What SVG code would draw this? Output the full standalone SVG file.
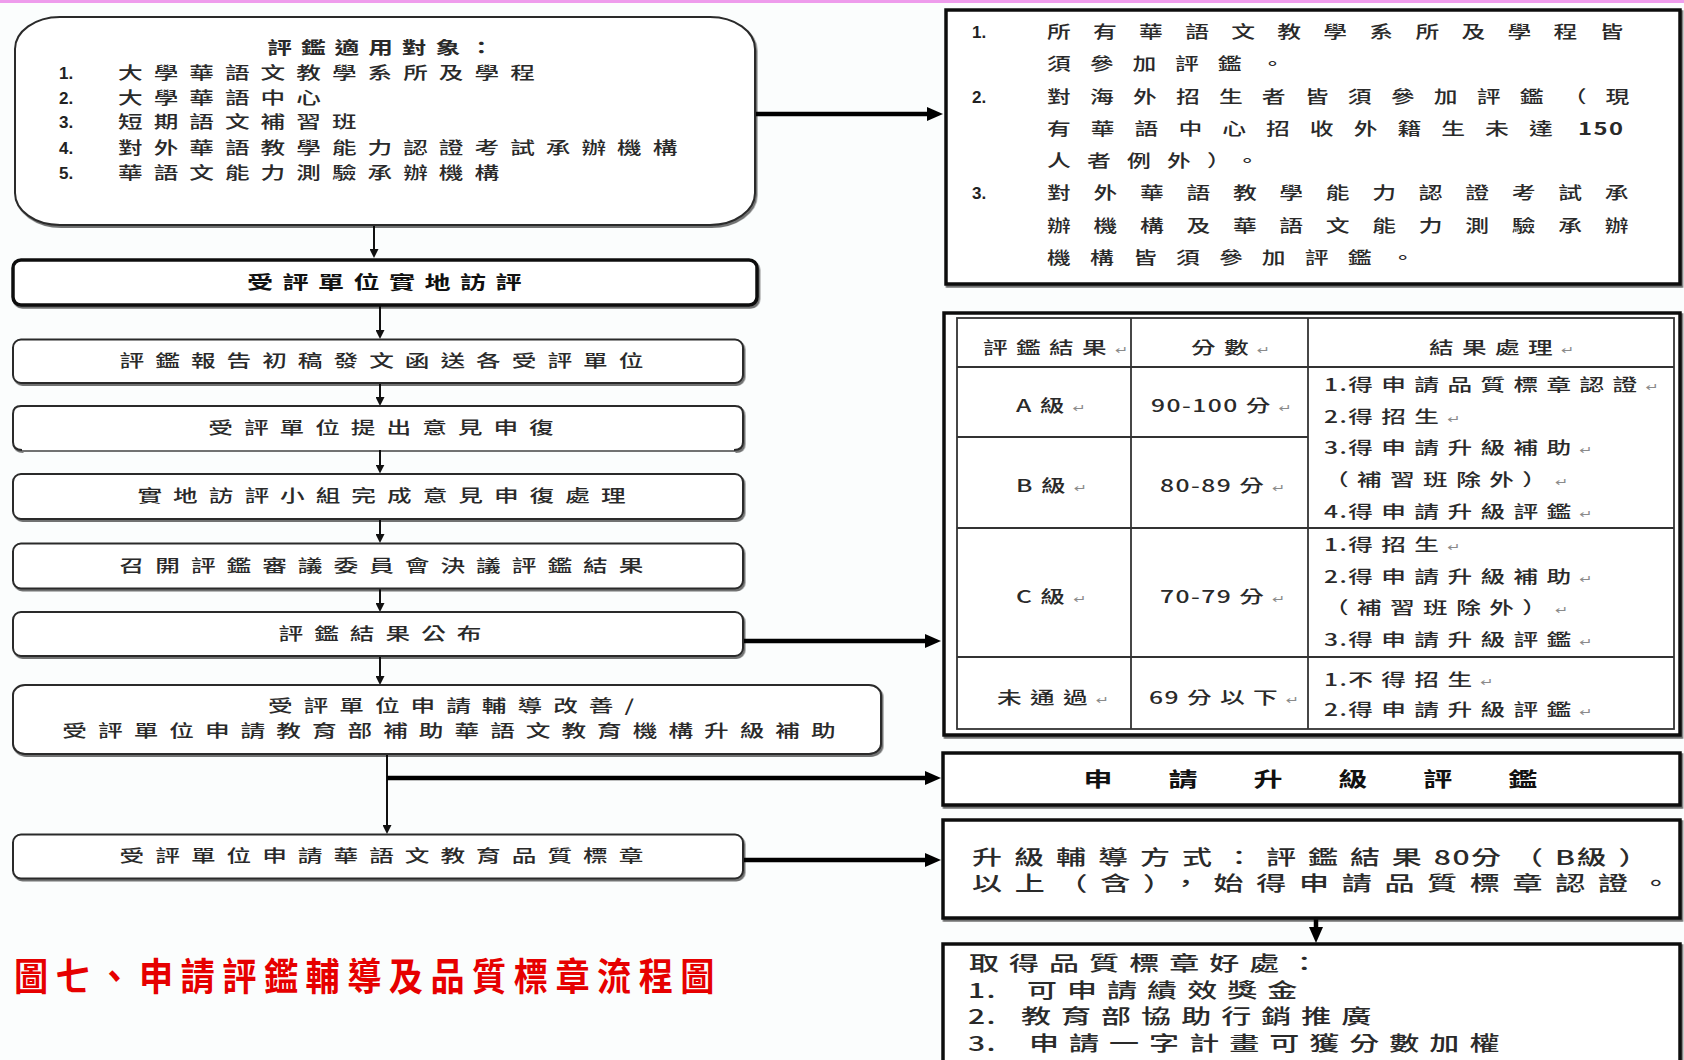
<svg xmlns="http://www.w3.org/2000/svg" width="1684" height="1060" viewBox="0 0 1684 1060">
<defs>
<style>
.t{font-family:"Noto Sans CJK TC","Noto Sans CJK SC",sans-serif;fill:#2a2a2a;font-weight:500}
.c{text-anchor:middle}
.fl{font-size:17px;letter-spacing:7.6px}
.fb{font-size:18px;font-weight:700;letter-spacing:6.5px;fill:#111}
.ft{font-size:17px;font-weight:700;letter-spacing:6.2px}
.num{font-size:17px;font-weight:700;font-family:"Liberation Sans",sans-serif;fill:#222}
.fr{font-size:17px}
.ftb{font-size:17px;letter-spacing:5.8px}
.d{letter-spacing:1px}
.pm{font-family:"DejaVu Sans",sans-serif;font-size:11px;fill:#8a8a8a;letter-spacing:0}
.fh{font-size:20px;font-weight:700;letter-spacing:38.6px;fill:#111}
.fu{font-size:20px;letter-spacing:8px}
.fw{font-size:20px;letter-spacing:6.7px}
.cap{font-family:"Noto Sans CJK TC","Noto Sans CJK SC",sans-serif;font-size:38px;font-weight:700;letter-spacing:8.3px;fill:#e60000}
.box{fill:#fff;stroke:#2a2a2a;stroke-width:2}
.bx2{fill:#fff;stroke:#111;stroke-width:3.5}
.rb{fill:#fff;stroke:#111;stroke-width:3.5}
.tl{stroke:#333;stroke-width:1.8;fill:none}
.ln{stroke:#111;stroke-width:2;fill:none}
.lk{stroke:#000;stroke-width:4.5;fill:none}
</style>
<filter id="sh" x="-3%" y="-10%" width="106%" height="125%">
<feDropShadow dx="1.5" dy="2" stdDeviation="0.6" flood-color="#000" flood-opacity="0.55"/>
</filter>
<marker id="as" viewBox="0 0 10 10" markerWidth="9" markerHeight="9" refX="2" refY="5" orient="auto" markerUnits="userSpaceOnUse">
<path d="M0,0 L10,5 L0,10 z" fill="#111"/>
</marker>
<marker id="ab" viewBox="0 0 16 14" markerWidth="16" markerHeight="14" refX="4" refY="7" orient="auto" markerUnits="userSpaceOnUse">
<path d="M0,0 L16,7 L0,14 z" fill="#000"/>
</marker>
</defs>

<rect x="0" y="0" width="1684" height="1060" fill="#fbfdfd"/>
<rect x="0" y="0" width="1684" height="3" fill="#ee9cec"/>

<g id="connectors">
<path class="ln" d="M374,225 V250.8" marker-end="url(#as)"/>
<path class="ln" d="M380,305 V331.8" marker-end="url(#as)"/>
<path class="ln" d="M380,383 V398.8" marker-end="url(#as)"/>
<path class="ln" d="M380,450 V466.4" marker-end="url(#as)"/>
<path class="ln" d="M380,519 V535.8" marker-end="url(#as)"/>
<path class="ln" d="M380,589 V604.8" marker-end="url(#as)"/>
<path class="ln" d="M380,656 V677.8" marker-end="url(#as)"/>
<path class="ln" d="M387,754 V826.8" stroke-width="2.5" marker-end="url(#as)"/>
<path class="lk" d="M387,778 H929" stroke-width="4" marker-end="url(#ab)"/>
<path class="lk" d="M743,641 H929" stroke-width="5" marker-end="url(#ab)"/>
<path class="lk" d="M743,860 H929" stroke-width="5" marker-end="url(#ab)"/>
<path class="lk" d="M755,114 H931" stroke-width="3.5" marker-end="url(#ab)"/>
<path class="lk" d="M1316,919 V931" stroke-width="5" marker-end="url(#ab)"/>
</g>

<g id="n-scope">
<rect class="box" x="15" y="17" width="740" height="208" rx="45" ry="32" filter="url(#sh)"/>
<text class="t ft c" transform="translate(385 54) scale(1.45 1)">評鑑適用對象：</text>
<text class="num" x="59" y="79">1.</text>
<text class="num" x="59" y="104">2.</text>
<text class="num" x="59" y="128">3.</text>
<text class="num" x="59" y="154">4.</text>
<text class="num" x="59" y="179">5.</text>
<text class="t fl" transform="translate(118 79) scale(1.45 1)">大學華語文教學系所及學程</text>
<text class="t fl" transform="translate(118 104) scale(1.45 1)">大學華語中心</text>
<text class="t fl" transform="translate(118 128) scale(1.45 1)">短期語文補習班</text>
<text class="t fl" transform="translate(118 154) scale(1.45 1)">對外華語教學能力認證考試承辦機構</text>
<text class="t fl" transform="translate(118 179) scale(1.45 1)">華語文能力測驗承辦機構</text>
</g>

<g id="n-visit">
<rect class="bx2" x="13" y="260" width="744" height="45" rx="8" filter="url(#sh)"/>
<text class="t fb c" transform="translate(389 289) scale(1.45 1)">受評單位實地訪評</text>
</g>

<g id="n-draft">
<rect class="box" x="13" y="339.5" width="730" height="43.5" rx="8" filter="url(#sh)"/>
<text class="t fl c" transform="translate(387 367) scale(1.45 1)">評鑑報告初稿發文函送各受評單位</text>
</g>

<g id="n-appeal">
<path d="M13,414 Q13,406 21,406 L735,406 Q743,406 743,414 L743,450 L13,450 Z" fill="#fff" stroke="none"/>
<path class="box" fill="none" d="M22,450 Q13,450 13,442 L13,414 Q13,406 21,406 L735,406 Q743,406 743,414 L743,442 Q743,450 734,450" filter="url(#sh)"/>
<text class="t fl c" transform="translate(386.5 434) scale(1.45 1)">受評單位提出意見申復</text>
</g>

<g id="n-process">
<rect class="box" x="13" y="474" width="730" height="45" rx="8" filter="url(#sh)"/>
<text class="t fl c" transform="translate(387 502) scale(1.45 1)">實地訪評小組完成意見申復處理</text>
</g>

<g id="n-committee">
<rect class="box" x="13" y="543.5" width="730" height="45" rx="8" filter="url(#sh)"/>
<text class="t fl c" transform="translate(387 572) scale(1.45 1)">召開評鑑審議委員會決議評鑑結果</text>
</g>

<g id="n-publish">
<rect class="box" x="13" y="612" width="730" height="44" rx="8" filter="url(#sh)"/>
<text class="t fl c" transform="translate(385.5 640) scale(1.45 1)">評鑑結果公布</text>
</g>

<g id="n-apply">
<rect class="box" x="13" y="685" width="868" height="69" rx="12" ry="10" filter="url(#sh)"/>
<text class="t fl c" transform="translate(456.5 712) scale(1.45 1)">受評單位申請輔導改善/</text>
<text class="t fl c" transform="translate(454.5 737) scale(1.45 1)">受評單位申請教育部補助華語文教育機構升級補助</text>
</g>

<g id="n-label">
<rect class="box" x="13" y="834.5" width="730" height="44" rx="8" filter="url(#sh)"/>
<text class="t fl c" transform="translate(387 862) scale(1.45 1)">受評單位申請華語文教育品質標章</text>
</g>

<g id="n-rules">
<rect class="rb" x="946" y="10" width="734" height="274" filter="url(#sh)"/>
<text class="num" x="972" y="38">1.</text>
<text class="num" x="972" y="103">2.</text>
<text class="num" x="972" y="199">3.</text>
<text class="t fr" style="letter-spacing:15.9px" transform="translate(1047 38) scale(1.4 1)">所有華語文教學系所及學程皆</text>
<text class="t fr" style="letter-spacing:13.5px" transform="translate(1047 70) scale(1.4 1)">須參加評鑑。</text>
<text class="t fr" style="letter-spacing:13.7px" transform="translate(1047 103) scale(1.4 1)">對海外招生者皆須參加評鑑（現</text>
<text class="t fr" style="letter-spacing:14.3px" transform="translate(1047 135) scale(1.4 1)">有華語中心招收外籍生未達<tspan letter-spacing="0"> </tspan><tspan font-weight="700" letter-spacing="1">150</tspan></text>
<text class="t fr" style="letter-spacing:11.6px" transform="translate(1047 167) scale(1.4 1)">人者例外）。</text>
<text class="t fr" style="letter-spacing:16.2px" transform="translate(1047 199) scale(1.4 1)">對外華語教學能力認證考試承</text>
<text class="t fr" style="letter-spacing:16.2px" transform="translate(1047 232) scale(1.4 1)">辦機構及華語文能力測驗承辦</text>
<text class="t fr" style="letter-spacing:13.7px" transform="translate(1047 264) scale(1.4 1)">機構皆須參加評鑑。</text>
</g>

<g id="n-table">
<rect class="rb" x="944" y="313" width="736" height="422" filter="url(#sh)"/>
<rect class="tl" x="957" y="318" width="717" height="411"/>
<path class="tl" d="M1131,318 V729 M1308,318 V729 M957,367 H1674 M957,437 H1308 M957,528 H1674 M957,657 H1674"/>
<text class="t ftb" transform="translate(983 354) scale(1.45 1)">評鑑結果<tspan class="pm">↵</tspan></text>
<text class="t ftb" transform="translate(1191 354) scale(1.45 1)">分數<tspan class="pm">↵</tspan></text>
<text class="t ftb" transform="translate(1429 354) scale(1.45 1)">結果處理<tspan class="pm">↵</tspan></text>
<text class="t ftb" transform="translate(1016 412) scale(1.45 1)"><tspan class="d">A </tspan>級<tspan class="pm">↵</tspan></text>
<text class="t ftb" transform="translate(1151 412) scale(1.45 1)"><tspan class="d">90-100 </tspan>分<tspan class="pm">↵</tspan></text>
<text class="t ftb" transform="translate(1016 492) scale(1.45 1)"><tspan class="d">B </tspan>級<tspan class="pm">↵</tspan></text>
<text class="t ftb" transform="translate(1160 492) scale(1.45 1)"><tspan class="d">80-89 </tspan>分<tspan class="pm">↵</tspan></text>
<text class="t ftb" transform="translate(1016 603) scale(1.45 1)"><tspan class="d">C </tspan>級<tspan class="pm">↵</tspan></text>
<text class="t ftb" transform="translate(1160 603) scale(1.45 1)"><tspan class="d">70-79 </tspan>分<tspan class="pm">↵</tspan></text>
<text class="t ftb" transform="translate(997 704) scale(1.45 1)">未通過<tspan class="pm">↵</tspan></text>
<text class="t ftb" transform="translate(1149 704) scale(1.45 1)"><tspan class="d">69 </tspan>分以下<tspan class="pm">↵</tspan></text>
<text class="t ftb" transform="translate(1324 391) scale(1.45 1)"><tspan class="d">1.</tspan>得申請品質標章認證<tspan class="pm">↵</tspan></text>
<text class="t ftb" transform="translate(1324 423) scale(1.45 1)"><tspan class="d">2.</tspan>得招生<tspan class="pm">↵</tspan></text>
<text class="t ftb" transform="translate(1324 454) scale(1.45 1)"><tspan class="d">3.</tspan>得申請升級補助<tspan class="pm">↵</tspan></text>
<text class="t ftb" transform="translate(1324 486) scale(1.45 1)">（補習班除外）<tspan class="pm">↵</tspan></text>
<text class="t ftb" transform="translate(1324 518) scale(1.45 1)"><tspan class="d">4.</tspan>得申請升級評鑑<tspan class="pm">↵</tspan></text>
<text class="t ftb" transform="translate(1324 551) scale(1.45 1)"><tspan class="d">1.</tspan>得招生<tspan class="pm">↵</tspan></text>
<text class="t ftb" transform="translate(1324 583) scale(1.45 1)"><tspan class="d">2.</tspan>得申請升級補助<tspan class="pm">↵</tspan></text>
<text class="t ftb" transform="translate(1324 614) scale(1.45 1)">（補習班除外）<tspan class="pm">↵</tspan></text>
<text class="t ftb" transform="translate(1324 646) scale(1.45 1)"><tspan class="d">3.</tspan>得申請升級評鑑<tspan class="pm">↵</tspan></text>
<text class="t ftb" transform="translate(1324 686) scale(1.45 1)"><tspan class="d">1.</tspan>不得招生<tspan class="pm">↵</tspan></text>
<text class="t ftb" transform="translate(1324 716) scale(1.45 1)"><tspan class="d">2.</tspan>得申請升級評鑑<tspan class="pm">↵</tspan></text>
</g>

<g id="n-upgrade">
<rect class="rb" x="943" y="753" width="737" height="52" stroke-width="4.5" filter="url(#sh)"/>
<text class="t fh" transform="translate(1083.5 787) scale(1.45 1)">申請升級評鑑</text>
</g>

<g id="n-method">
<rect class="rb" x="943" y="820" width="737" height="98" stroke-width="4.5" filter="url(#sh)"/>
<text class="t fu" transform="translate(972 865) scale(1.5 1)">升級輔導方式：評鑑結果<tspan class="d">80</tspan>分（<tspan class="d">B</tspan>級）</text>
<text class="t fu" style="letter-spacing:8.5px" transform="translate(972 891) scale(1.5 1)">以上（含），始得申請品質標章認證。</text>
</g>

<g id="n-benefit">
<rect class="rb" x="943" y="944" width="737" height="130" stroke-width="4.5" filter="url(#sh)"/>
<text class="t fw" transform="translate(969 971) scale(1.5 1)">取得品質標章好處：</text>
<text class="t fw" style="letter-spacing:1px" transform="translate(968 998) scale(1.5 1)">1.</text>
<text class="t fw" style="letter-spacing:1px" transform="translate(968 1024) scale(1.5 1)">2.</text>
<text class="t fw" style="letter-spacing:1px" transform="translate(968 1051) scale(1.5 1)">3.</text>
<text class="t fw" transform="translate(1027 998) scale(1.5 1)">可申請績效獎金</text>
<text class="t fw" transform="translate(1021 1024) scale(1.5 1)">教育部協助行銷推廣</text>
<text class="t fw" transform="translate(1029 1051) scale(1.5 1)">申請一字計畫可獲分數加權</text>
</g>

<g id="caption">
<text class="cap" transform="translate(14 990) scale(0.9 1)">圖七、申請評鑑輔導及品質標章流程圖</text>
</g>
</svg>
